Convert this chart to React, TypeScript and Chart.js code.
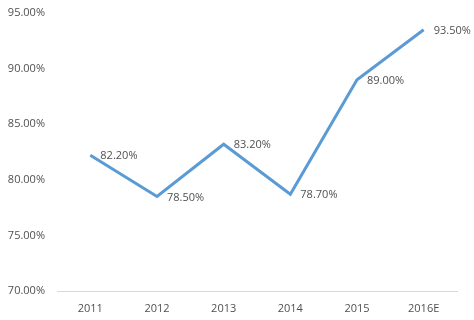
import React, { useEffect, useRef } from "react";
import { Chart, registerables } from "chart.js";

Chart.register(...registerables);

const categories = ["2011", "2012", "2013", "2014", "2015", "2016E"];
const values = [82.2, 78.5, 83.2, 78.7, 89.0, 93.5];
const yTicks = [70, 75, 80, 85, 90, 95];

const FONT = "'Open Sans', 'Noto Sans', sans-serif";

const labelPlugin = {
  id: "pointLabels",
  afterDatasetsDraw(chart: any) {
    const ctx = chart.ctx;
    const meta = chart.getDatasetMeta(0);
    ctx.save();
    ctx.font = `11px ${FONT}`;
    ctx.fillStyle = "#505050";
    ctx.textAlign = "left";
    ctx.textBaseline = "middle";
    meta.data.forEach((pt: any, i: number) => {
      ctx.fillText(values[i].toFixed(2) + "%", pt.x + 10, pt.y + 1);
    });
    ctx.restore();
  },
};

export default function App() {
  const ref = useRef<HTMLCanvasElement>(null);
  useEffect(() => {
    document.body.style.margin = "0";
    const chart = new Chart(ref.current!, {
      type: "line",
      data: {
        labels: categories,
        datasets: [
          {
            data: values,
            borderColor: "#5b9bd5",
            borderWidth: 3,
            pointRadius: 0,
            tension: 0,
            fill: false,
          },
        ],
      },
      options: {
        animation: false,
        responsive: false,
        layout: { padding: { top: 13, right: 17, left: 0, bottom: 0 } },
        plugins: { legend: { display: false }, tooltip: { enabled: false } },
        scales: {
          x: {
            offset: true,
            grid: { display: false, drawTicks: false },
            border: { display: true, color: "#d9d9d9", width: 1 },
            ticks: {
              color: "#505050",
              font: { family: FONT, size: 11 },
              padding: 11,
              maxRotation: 0,
            },
            afterFit: (s: any) => {
              s.height = 29;
              s.paddingLeft = 0;
              s.paddingRight = 0;
            },
          },
          y: {
            min: yTicks[0],
            max: yTicks[yTicks.length - 1],
            grid: { display: false, drawTicks: false },
            border: { display: false },
            afterBuildTicks: (s: any) => {
              s.ticks = yTicks.map((v) => ({ value: v }));
            },
            ticks: {
              color: "#505050",
              font: { family: FONT, size: 11 },
              padding: 12,
              callback: (v: any) => Number(v).toFixed(2) + "%",
            },
            afterFit: (s: any) => {
              s.width = 57;
              s.paddingTop = 0;
              s.paddingBottom = 0;
            },
          },
        },
      },
      plugins: [labelPlugin],
    });
    return () => chart.destroy();
  }, []);
  return <canvas ref={ref} width={474} height={320} style={{ display: "block" }} />;
}
